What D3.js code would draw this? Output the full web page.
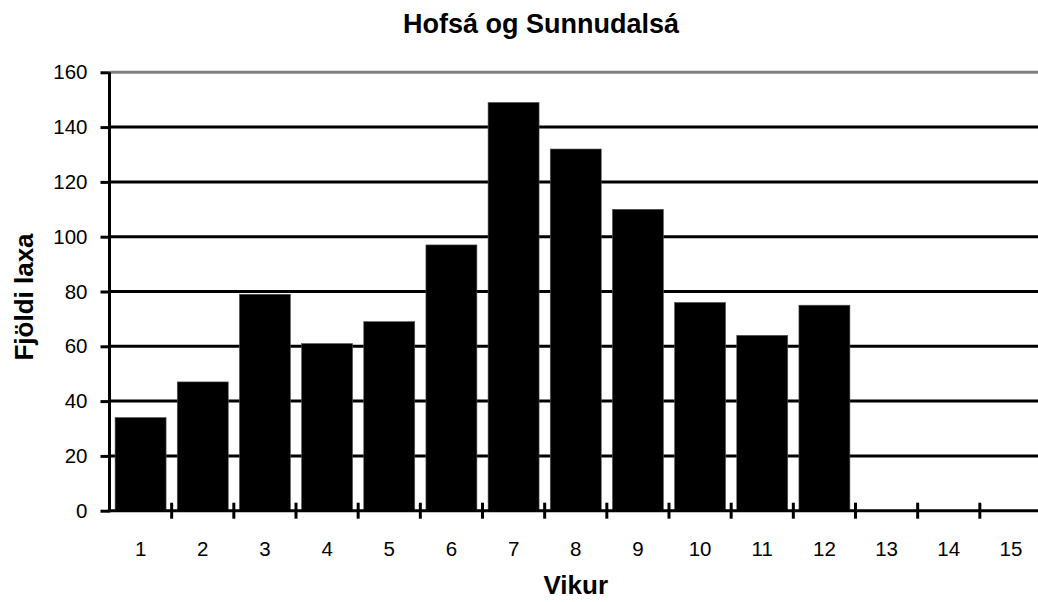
<!DOCTYPE html>
<html>
<head>
<meta charset="utf-8">
<script src="https://cdn.jsdelivr.net/npm/d3@7"></script>
<style>
  body { margin: 0; background: #fff; }
  svg { display: block; font-family: "Liberation Sans", Arial, sans-serif; }
</style>
</head>
<body>
<svg id="chart" width="1038" height="602"></svg>
<script>
const weeks = [1, 2, 3, 4, 5, 6, 7, 8, 9, 10, 11, 12, 13, 14, 15];
const fish = [34, 47, 79, 61, 69, 97, 149, 132, 110, 76, 64, 75, 0, 0, 0];
const yTicks = [0, 20, 40, 60, 80, 100, 120, 140, 160];

const svg = d3.select('#chart');

// plot area (right edge runs a little past the picture, as in the original)
const plot = { left: 109.5, right: 1042, top: 72.3, bottom: 510.7 };

const x = d3.scaleBand().domain(weeks).range([plot.left, plot.right]).paddingInner(0.18).paddingOuter(0.09);
const y = d3.scaleLinear().domain([0, 160]).range([plot.bottom, plot.top]);

// gridlines
svg.append('g').selectAll('line').data(yTicks.filter(d => d > 0)).join('line')
  .attr('x1', plot.left).attr('x2', plot.right)
  .attr('y1', d => y(d)).attr('y2', d => y(d))
  .attr('stroke', d => d === 160 ? '#808080' : '#000')
  .attr('stroke-width', 3);

// bars
svg.append('g').selectAll('rect').data(weeks).join('rect')
  .attr('x', d => x(d))
  .attr('width', x.bandwidth())
  .attr('y', (d, i) => y(fish[i]))
  .attr('height', (d, i) => plot.bottom - y(fish[i]))
  .attr('fill', '#000')
  .attr('stroke', '#555').attr('stroke-width', 0.6);

// y axis
const yAxis = svg.append('g').attr('transform', `translate(${plot.left},0)`)
  .call(d3.axisLeft(y).tickValues(yTicks).tickSize(9).tickPadding(13));
yAxis.select('.domain').attr('stroke', '#000').attr('stroke-width', 3).attr('d', `M0,${plot.top}V${plot.bottom + 1.5}`);
yAxis.selectAll('.tick line').attr('stroke', '#000').attr('stroke-width', 3);
yAxis.selectAll('.tick text').attr('font-size', 20.5).attr('fill', '#000').attr('font-family', null);

// x axis: labels at band centres, ticks at band boundaries
const xAxis = svg.append('g').attr('transform', `translate(0,${plot.bottom})`)
  .call(d3.axisBottom(x).tickSize(0));
xAxis.select('.domain').attr('stroke', '#000').attr('stroke-width', 3).attr('d', `M${plot.left},0H${plot.right}`);
xAxis.selectAll('.tick text').attr('font-size', 20.5).attr('fill', '#000')
  .attr('font-family', null).attr('dy', 0).attr('y', 45.5);

const bounds = weeks.slice(1).map(w => x(w) - x.step() * x.paddingInner() / 2);
svg.append('g').selectAll('line').data(bounds).join('line')
  .attr('x1', d => d).attr('x2', d => d)
  .attr('y1', plot.bottom - 8).attr('y2', plot.bottom + 8)
  .attr('stroke', '#000').attr('stroke-width', 3);

// titles
svg.append('text').attr('x', 541).attr('y', 32.7).attr('text-anchor', 'middle')
  .attr('font-size', 27).attr('font-weight', 'bold').text('Hofsá og Sunnudalsá');

svg.append('text').attr('x', (plot.left + plot.right) / 2).attr('y', 594).attr('text-anchor', 'middle')
  .attr('font-size', 26).attr('font-weight', 'bold').text('Vikur');

svg.append('text').attr('transform', 'translate(33,297) rotate(-90)').attr('text-anchor', 'middle')
  .attr('font-size', 26).attr('font-weight', 'bold').text('Fjöldi laxa');
</script>
</body>
</html>
